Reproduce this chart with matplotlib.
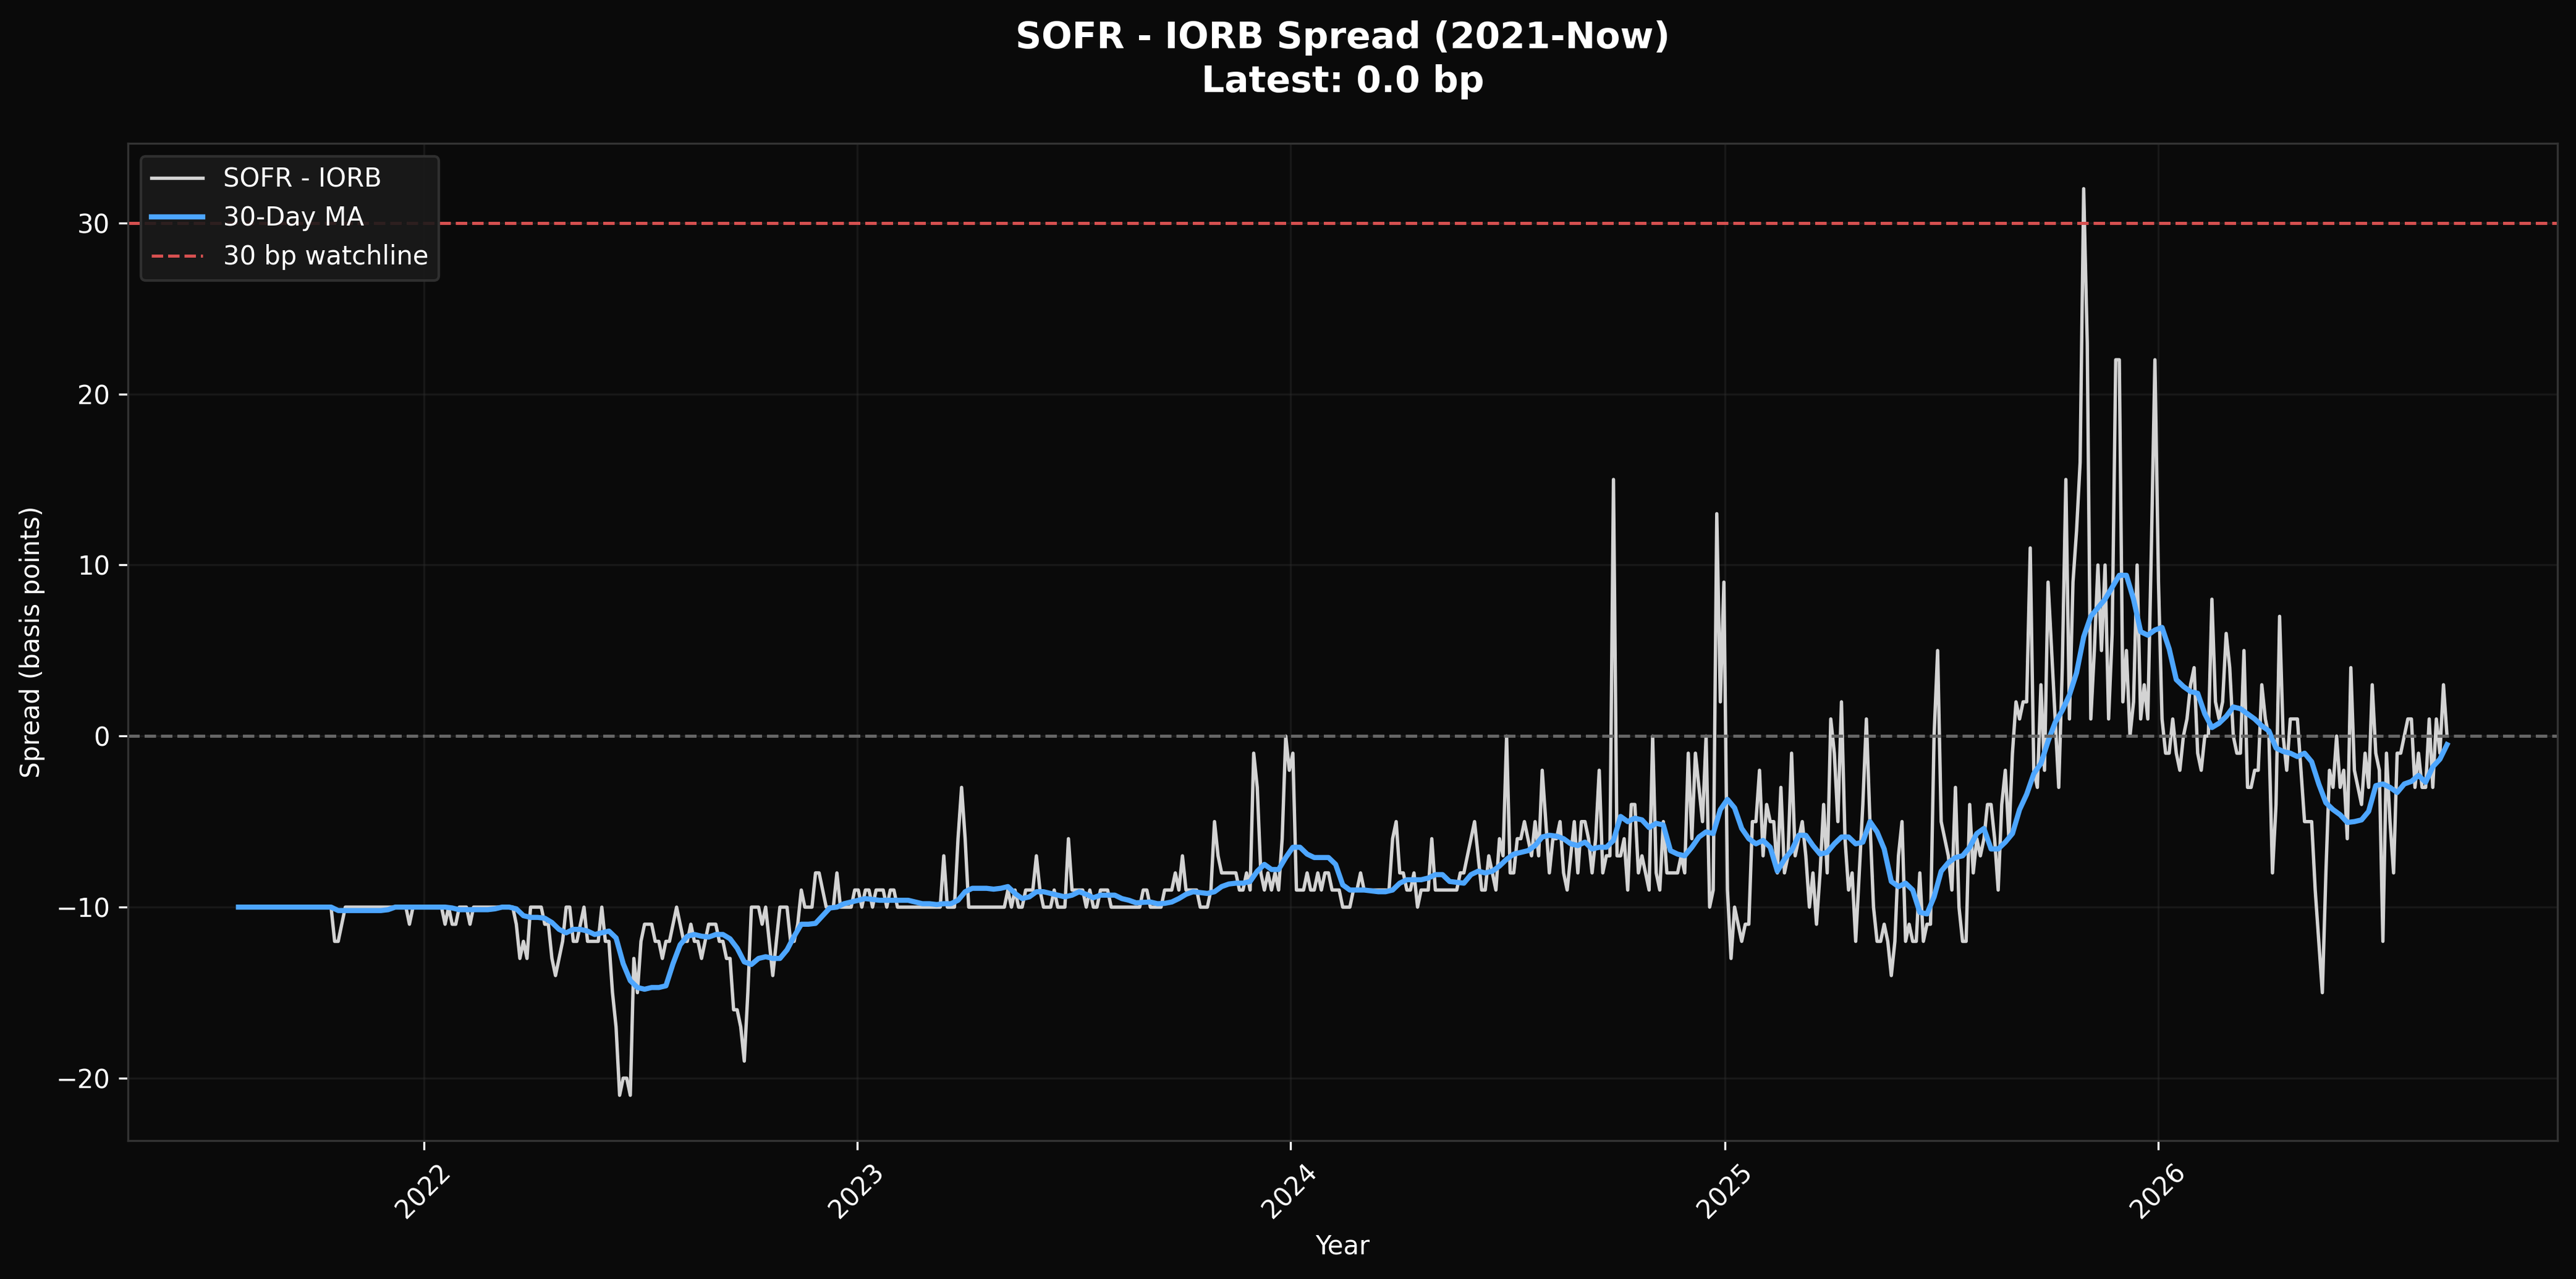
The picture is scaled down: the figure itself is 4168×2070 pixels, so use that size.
import pandas as pd
import matplotlib
matplotlib.use('Agg')
import matplotlib.pyplot as plt
import matplotlib.dates as mdates

# SOFR - IORB spread in bp, one value every 3 days from 2021-07-29
raw_2021 = [
    -10, -10, -10, -10, -10, -10, -10, -10, -10, -10,
    -10, -10, -10, -10, -10, -10, -10, -10, -10, -10,
    -10, -10, -10, -10, -10, -10, -10, -12, -12, -11,
    -10, -10, -10, -10, -10, -10, -10, -10, -10, -10,
    -10, -10, -10, -10, -10, -10, -10, -10, -11, -10,
    -10, -10,
]
raw_2022 = [
    -10, -10, -10, -10, -10, -10, -11, -10, -11, -11,
    -10, -10, -10, -11, -10, -10, -10, -10, -10, -10,
    -10, -10, -10, -10, -10, -10, -11, -13, -12, -13,
    -10, -10, -10, -10, -11, -11, -13, -14, -13, -12,
    -10, -10, -12, -12, -11, -10, -12, -12, -12, -12,
    -10, -12, -12, -15, -17, -21, -20, -20, -21, -13,
    -15, -12, -11, -11, -11, -12, -12, -13, -12, -12,
    -11, -10, -11, -12, -12, -11, -12, -12, -13, -12,
    -11, -11, -11, -12, -12, -13, -13, -16, -16, -17,
    -19, -15, -10, -10, -10, -11, -10, -12, -14, -12,
    -10, -10, -10, -12, -12, -11, -9, -10, -10, -10,
    -8, -8, -9, -10, -10, -10, -8, -10, -10, -10,
    -10, -9,
]
raw_2023 = [
    -9, -10, -9, -9, -10, -9, -9, -9, -10, -9,
    -9, -10, -10, -10, -10, -10, -10, -10, -10, -10,
    -10, -10, -10, -10, -7, -10, -10, -10, -6, -3,
    -6, -10, -10, -10, -10, -10, -10, -10, -10, -10,
    -10, -10, -9, -10, -9, -10, -10, -9, -9, -9,
    -7, -9, -10, -10, -10, -9, -10, -10, -10, -6,
    -9, -9, -9, -9, -10, -9, -10, -10, -9, -9,
    -9, -10, -10, -10, -10, -10, -10, -10, -10, -10,
    -9, -9, -10, -10, -10, -10, -9, -9, -9, -8,
    -9, -7, -9, -9, -9, -9, -10, -10, -10, -9,
    -5, -7, -8, -8, -8, -8, -8, -9, -9, -8,
    -9, -1, -3, -8, -9, -8, -9, -8, -9, -6,
    0, -2,
]
raw_2024 = [
    -1, -9, -9, -9, -8, -9, -9, -8, -9, -8,
    -8, -9, -9, -9, -10, -10, -10, -9, -9, -8,
    -9, -9, -9, -9, -9, -9, -9, -9, -6, -5,
    -8, -8, -9, -9, -8, -10, -9, -9, -9, -6,
    -9, -9, -9, -9, -9, -9, -9, -8, -8, -7,
    -6, -5, -7, -9, -9, -7, -8, -9, -6, -7,
    0, -8, -8, -6, -6, -5, -6, -7, -5, -7,
    -2, -5, -8, -6, -6, -5, -8, -9, -7, -5,
    -8, -5, -5, -6, -8, -6, -2, -8, -7, -7,
    15, -7, -7, -6, -9, -4, -4, -8, -7, -8,
    -9, 0, -8, -9, -5, -8, -8, -8, -8, -7,
    -8, -1, -6, -1, -3, -5, 0, -10, -9, 13,
    2, 9,
]
raw_2025 = [
    -9, -13, -10, -11, -12, -11, -11, -5, -5, -2,
    -7, -4, -5, -5, -8, -3, -8, -7, -1, -7,
    -6, -5, -7, -10, -8, -11, -8, -4, -8, 1,
    -1, -5, 2, -6, -9, -8, -12, -8, -4, 1,
    -5, -10, -12, -12, -11, -12, -14, -12, -7, -5,
    -12, -11, -12, -12, -8, -12, -11, -11, 0, 5,
    -5, -6, -7, -9, -3, -10, -12, -12, -4, -8,
    -6, -7, -6, -4, -4, -6, -9, -4, -2, -6,
    -1, 2, 1, 2, 2, 11, -2, -3, 3, -2,
    9, 5, 1, -3, 4, 15, 1, 9, 12, 16,
    32, 23, 1, 5, 10, 5, 10, 1, 6, 22,
    22, 2, 5, 0, 2, 10, 1, 3, 1, 11,
    22,
]
raw_2026 = [
    9, 1, -1, -1, 1, -1, -2, 0, 1, 3,
    4, -1, -2, 0, 0, 8, 2, 1, 2, 6,
    4, 0, -1, -1, 5, -3, -3, -2, -2, 3,
    1, 0, -8, -4, 7, 0, -2, 1, 1, 1,
    -2, -5, -5, -5, -9, -12, -15, -8, -2, -3,
    0, -3, -2, -6, 4, -2, -3, -4, -1, -3,
    3, -1, -2, -12, -1, -5, -8, -1, -1, 0,
    1, 1, -3, -1, -3, -3, 1, -3, 1, -1,
    3, 0,
]

# 30-day moving average, one value every 6 days from 2021-07-29
ma_part1 = [
    -10, -10, -10, -10, -10, -10, -10, -10, -10, -10,
    -10, -10, -10, -10, -10.2, -10.2, -10.2, -10.2, -10.2, -10.2,
    -10.2, -10.15, -10, -10, -10, -10, -10, -10, -10, -10,
    -10.05, -10.15, -10.15, -10.15, -10.15, -10.15, -10.1, -10, -10, -10.1,
    -10.5, -10.6, -10.6, -10.65, -10.9, -11.3, -11.5, -11.3, -11.3, -11.4,
    -11.6, -11.5, -11.4, -11.8, -13.3, -14.3, -14.7, -14.8, -14.7, -14.7,
    -14.6, -13.3, -12.2, -11.7, -11.6, -11.7, -11.75, -11.6, -11.6, -11.85,
    -12.4, -13.2, -13.35, -13.0, -12.9, -13.0, -13.0, -12.5, -11.7, -11.0,
    -11.0, -10.95, -10.5, -10.05, -10.0, -9.8, -9.7, -9.6, -9.5, -9.55,
    -9.6, -9.6, -9.6, -9.6, -9.6, -9.7, -9.8, -9.8, -9.85, -9.8,
]
ma_part2 = [
    -9.8, -9.6, -9.1, -8.9, -8.9, -8.9, -8.95, -8.9, -8.8, -9.2,
    -9.5, -9.4, -9.1, -9.1, -9.2, -9.3, -9.4, -9.3, -9.1, -9.25,
    -9.45, -9.3, -9.3, -9.3, -9.5, -9.6, -9.75, -9.72, -9.7, -9.8,
    -9.78, -9.7, -9.5, -9.25, -9.1, -9.15, -9.2, -9.1, -8.8, -8.65,
    -8.6, -8.6, -8.5, -7.9, -7.5, -7.8, -7.8, -7.1, -6.5, -6.5,
    -6.9, -7.1, -7.1, -7.1, -7.5, -8.7, -9.0, -9.0, -9.0, -9.05,
    -9.1, -9.1, -9.0, -8.6, -8.4, -8.4, -8.4, -8.3, -8.1, -8.1,
    -8.5, -8.55, -8.6, -8.1, -7.9, -8.0, -7.9, -7.6, -7.2, -6.9,
    -6.8, -6.7, -6.4, -5.9, -5.8, -5.85, -6.0, -6.3, -6.4, -6.2,
    -6.6, -6.5, -6.5, -6.1, -4.7, -5.0, -4.8, -4.9, -5.35, -5.1,
]
ma_part3 = [
    -5.2, -6.7, -6.9, -7.0, -6.5, -5.9, -5.6, -5.7, -4.3, -3.7,
    -4.2, -5.4, -6.0, -6.3, -6.1, -6.5, -7.9, -7.2, -6.7, -5.8,
    -5.8, -6.4, -6.9, -6.8, -6.3, -5.9, -5.9, -6.3, -6.2, -5.0,
    -5.6, -6.6, -8.5, -8.8, -8.6, -9.0, -10.3, -10.4, -9.4, -7.9,
    -7.4, -7.1, -7.0, -6.5, -5.7, -5.4, -6.6, -6.6, -6.2, -5.7,
    -4.3, -3.4, -2.2, -1.6, -0.3, 0.8, 1.5, 2.4, 3.7, 5.8,
    7.0, 7.5, 8.0, 8.7, 9.4, 9.4, 8.0, 6.1, 5.9, 6.2,
    6.35, 5.1, 3.3, 2.9, 2.6, 2.5, 1.3, 0.5, 0.75, 1.15,
    1.7, 1.6, 1.3, 1.0, 0.6, 0.3, -0.7, -0.9, -1.0, -1.2,
    -1.0, -1.5, -2.8, -3.9, -4.3, -4.6, -5.05, -5.0, -4.9, -4.4,
    -2.9, -2.8, -3.0, -3.3, -2.8, -2.65, -2.3, -2.7, -1.8, -1.35,
    -0.5,
]

watchline = 30

spread = raw_2021 + raw_2022 + raw_2023 + raw_2024 + raw_2025 + raw_2026
ma = ma_part1 + ma_part2 + ma_part3
dates = pd.date_range('2021-07-29', periods=len(spread), freq='3D')
ma_dates = pd.date_range('2021-07-29', periods=len(ma), freq='6D')

bg = '#0a0a0a'
fig, ax = plt.subplots(figsize=(4168 / 300, 2070 / 300), dpi=300)
fig.patch.set_facecolor(bg)
ax.set_facecolor(bg)
fig.subplots_adjust(left=0.0497, right=0.9928, bottom=0.1082, top=0.8879)

ax.plot(dates, spread, color='#d3d3d3', linewidth=1.3, label='SOFR - IORB')
ax.plot(ma_dates, ma, color='#4da6ff', linewidth=2.0, label='30-Day MA')
ax.axhline(watchline, color='#d65050', linestyle='--', linewidth=1.2,
           label='30 bp watchline')
ax.axhline(0, color='#666666', linestyle='--', linewidth=1.2)

ax.xaxis.set_major_locator(mdates.YearLocator())
ax.xaxis.set_major_formatter(mdates.DateFormatter('%Y'))
plt.setp(ax.get_xticklabels(), rotation=45)

ax.tick_params(colors='white', labelsize=10)
for sp in ax.spines.values():
    sp.set_color('#333333')
ax.grid(True, color='#333333', alpha=0.35, linewidth=0.8)

ax.set_title(f'SOFR - IORB Spread (2021-Now)\nLatest: {spread[-1]:.1f} bp',
             color='white', fontsize=14, fontweight='bold', pad=20,
             linespacing=1.3)
ax.set_xlabel('Year', color='white', fontsize=10)
ax.set_ylabel('Spread (basis points)', color='white', fontsize=10)

ax.legend(loc='upper left', facecolor='#1a1a1a', edgecolor='#333333',
          labelcolor='white', fontsize=10, framealpha=0.9)

fig.savefig('out.png', dpi=300, facecolor=bg)
